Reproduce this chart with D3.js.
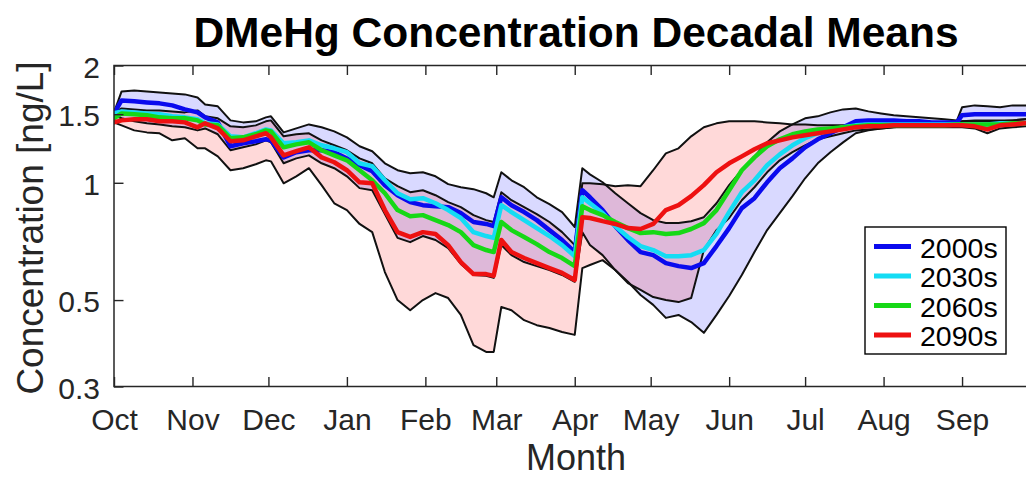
<!DOCTYPE html>
<html>
<head>
<meta charset="utf-8">
<script src="https://cdn.jsdelivr.net/npm/d3@7"></script>
<style>
  html, body { margin: 0; padding: 0; background: #fff; overflow: hidden; }
  svg { display: block; font-family: "Liberation Sans", Arial, Helvetica, sans-serif; }
</style>
</head>
<body>
<svg id="chart" width="1026" height="479"></svg>
<script>
// Day of the water year (0 = 1 October)
const days = [0,3,8,13,18,23,28,33,36,41,46,51,56,60,62,67,72,77,82,87,92,97,102,107,112,117,122,127,132,137,142,147,150,153,157,162,167,172,177,182,185,188,193,198,203,208,213,218,223,228,233,238,243,248,253,258,263,268,273,278,283,288,293,298,303,308,313,318,323,328,333,335,340,345,350,355,360,365];

const monthStarts = [0,31,61,92,123,151,182,212,243,273,304,335];
const monthLabels = ["Oct","Nov","Dec","Jan","Feb","Mar","Apr","May","Jun","Jul","Aug","Sep"];
const yTicks = [0.3, 0.5, 1, 1.5, 2];

const decades = ["2000s", "2030s", "2060s", "2090s"];
const decadeColors = ["#0a0aee", "#14dcf4", "#16d816", "#ee1111"];

// Decadal mean DMeHg concentration [ng/L]
const mean2000s = [1.507,1.627,1.618,1.608,1.599,1.580,1.543,1.516,1.472,1.429,
 1.241,1.263,1.278,1.293,1.285,1.162,1.198,1.212,1.212,1.198,
 1.155,1.109,1.071,0.986,0.929,0.892,0.876,0.871,0.866,0.836,
 0.793,0.784,0.774,0.918,0.876,0.841,0.802,0.756,0.713,0.664,
 0.957,0.918,0.851,0.774,0.713,0.664,0.652,0.622,0.611,0.604,
 0.622,0.688,0.765,0.861,0.913,1.003,1.090,1.155,1.233,1.293,
 1.340,1.388,1.438,1.446,1.446,1.446,1.438,1.438,1.429,1.429,
 1.429,1.490,1.499,1.499,1.499,1.499,1.499,1.499];

const mean2030s = [1.507,1.525,1.516,1.507,1.499,1.481,1.472,1.455,1.421,1.412,
 1.316,1.308,1.340,1.371,1.363,1.263,1.270,1.285,1.248,1.226,
 1.198,1.122,1.103,1.015,0.940,0.907,0.913,0.886,0.851,0.812,
 0.747,0.730,0.722,0.876,0.841,0.802,0.765,0.730,0.692,0.648,
 0.918,0.886,0.836,0.774,0.726,0.688,0.672,0.648,0.648,0.652,
 0.672,0.739,0.841,0.946,1.015,1.109,1.183,1.248,1.301,1.340,
 1.363,1.388,1.404,1.412,1.412,1.412,1.412,1.412,1.412,1.412,
 1.412,1.412,1.412,1.412,1.421,1.421,1.421,1.421];

const mean2060s = [1.464,1.507,1.499,1.490,1.472,1.464,1.464,1.446,1.412,1.404,
 1.301,1.308,1.332,1.363,1.355,1.233,1.255,1.270,1.212,1.176,
 1.142,1.077,1.015,0.940,0.851,0.821,0.826,0.802,0.779,0.747,
 0.692,0.672,0.664,0.793,0.756,0.726,0.696,0.664,0.641,0.611,
 0.871,0.851,0.826,0.793,0.765,0.743,0.747,0.739,0.743,0.761,
 0.788,0.851,0.957,1.077,1.162,1.241,1.293,1.332,1.355,1.371,
 1.379,1.388,1.396,1.404,1.404,1.404,1.404,1.404,1.404,1.404,
 1.412,1.412,1.412,1.412,1.412,1.421,1.421,1.421];

const mean2090s = [1.429,1.446,1.455,1.455,1.438,1.438,1.429,1.388,1.421,1.379,
 1.278,1.285,1.316,1.340,1.308,1.176,1.205,1.233,1.162,1.129,
 1.077,1.003,0.997,0.851,0.747,0.726,0.747,0.739,0.692,0.626,
 0.583,0.583,0.577,0.713,0.664,0.641,0.622,0.604,0.587,0.563,
 0.816,0.812,0.797,0.784,0.765,0.761,0.784,0.851,0.876,0.924,
 0.986,1.064,1.122,1.169,1.219,1.263,1.285,1.308,1.324,1.340,
 1.355,1.371,1.388,1.396,1.396,1.404,1.404,1.404,1.404,1.404,
 1.404,1.404,1.396,1.371,1.404,1.412,1.421,1.421];

// Range of the 2000s decade
const low2000s = [1.490,1.464,1.438,1.421,1.412,1.396,1.388,1.363,1.379,1.332,
 1.212,1.233,1.255,1.285,1.270,1.122,1.155,1.176,1.122,1.090,
 1.039,0.969,0.957,0.831,0.722,0.704,0.730,0.713,0.680,0.619,
 0.580,0.577,0.570,0.692,0.652,0.626,0.611,0.597,0.580,0.557,
 0.747,0.692,0.652,0.597,0.557,0.515,0.486,0.450,0.458,0.439,
 0.412,0.458,0.512,0.580,0.664,0.756,0.836,0.924,1.027,1.122,
 1.198,1.270,1.340,1.363,1.379,1.388,1.396,1.396,1.404,1.404,
 1.404,1.438,1.446,1.446,1.446,1.446,1.455,1.455];

const high2000s = [1.516,1.716,1.726,1.716,1.706,1.696,1.686,1.656,1.589,1.571,
 1.446,1.429,1.438,1.472,1.481,1.347,1.379,1.412,1.388,1.355,
 1.308,1.241,1.205,1.122,1.077,1.058,1.064,1.039,0.992,0.974,
 0.963,0.940,0.918,1.064,1.015,0.974,0.918,0.881,0.841,0.770,
 1.090,1.051,1.003,0.940,0.886,0.836,0.802,0.788,0.788,0.797,
 0.816,0.886,0.986,1.077,1.169,1.270,1.355,1.412,1.464,1.481,
 1.516,1.543,1.552,1.525,1.507,1.490,1.481,1.472,1.464,1.455,
 1.446,1.562,1.580,1.571,1.562,1.580,1.580,1.571];

// Range of the 2090s decade
const low2090s = [1.429,1.404,1.363,1.347,1.340,1.285,1.301,1.226,1.226,1.169,
 1.077,1.090,1.116,1.142,1.135,0.997,1.039,1.090,0.986,0.886,
 0.851,0.784,0.747,0.590,0.500,0.471,0.500,0.521,0.506,0.458,
 0.383,0.368,0.368,0.480,0.471,0.444,0.431,0.424,0.414,0.407,
 0.604,0.615,0.633,0.597,0.553,0.531,0.509,0.500,0.494,0.506,
 0.672,0.756,0.812,0.902,0.974,1.064,1.142,1.198,1.248,1.293,
 1.316,1.340,1.363,1.371,1.379,1.388,1.388,1.388,1.388,1.388,
 1.388,1.388,1.379,1.340,1.379,1.388,1.396,1.396];

const high2090s = [1.516,1.552,1.543,1.534,1.534,1.525,1.516,1.534,1.481,1.464,
 1.396,1.388,1.404,1.438,1.446,1.316,1.332,1.340,1.285,1.248,
 1.212,1.155,1.122,1.027,0.980,0.946,0.957,0.929,0.892,0.866,
 0.826,0.802,0.793,0.946,0.902,0.866,0.831,0.793,0.747,0.692,
 0.997,0.997,0.992,0.980,0.986,0.980,1.077,1.190,1.226,1.316,
 1.388,1.421,1.438,1.438,1.438,1.429,1.421,1.412,1.412,1.404,
 1.404,1.404,1.412,1.421,1.421,1.429,1.429,1.429,1.429,1.429,
 1.429,1.438,1.438,1.438,1.438,1.446,1.455,1.455];

const means = [mean2000s, mean2030s, mean2060s, mean2090s];
const bands = [
  { low: low2000s, high: high2000s, fill: "rgba(0,0,255,0.15)" },
  { low: low2090s, high: high2090s, fill: "rgba(255,0,0,0.15)" }
];

// ---- layout ----
const plotL = 114, plotR = 1038, plotT = 65.5, plotB = 386.5;
const axisColor = "#262626";

const x = d3.scaleLinear().domain([0, 365]).range([plotL, plotR]);
const y = d3.scaleLog().domain([0.3, 2]).range([plotB, plotT]);

const svg = d3.select("#chart");

svg.append("defs").append("clipPath").attr("id", "plotClip")
  .append("rect").attr("x", plotL).attr("y", plotT)
  .attr("width", plotR - plotL).attr("height", plotB - plotT);

const plot = svg.append("g").attr("clip-path", "url(#plotClip)");
const idx = d3.range(days.length);

// shaded decade ranges
bands.forEach(b => {
  plot.append("path")
    .datum(idx)
    .attr("fill", b.fill)
    .attr("stroke", "none")
    .attr("d", d3.area()
      .x(i => x(days[i]))
      .y0(i => y(b.low[i]))
      .y1(i => y(b.high[i])));
});

// range outlines
const seriesLine = arr => d3.line().x(i => x(days[i])).y(i => y(arr[i]));
bands.forEach(b => {
  [b.low, b.high].forEach(arr => {
    plot.append("path")
      .datum(idx)
      .attr("fill", "none")
      .attr("stroke", "#111")
      .attr("stroke-width", 2)
      .attr("stroke-linejoin", "round")
      .attr("d", seriesLine(arr));
  });
});

// decadal mean lines
means.forEach((arr, k) => {
  plot.append("path")
    .datum(idx)
    .attr("fill", "none")
    .attr("stroke", decadeColors[k])
    .attr("stroke-width", 4.5)
    .attr("stroke-linejoin", "round")
    .attr("stroke-linecap", "round")
    .attr("d", seriesLine(arr));
});

// ---- axes ----
const styleAxis = g => {
  g.select(".domain").remove();
  g.selectAll(".tick line").attr("stroke", axisColor).attr("stroke-width", 1.4);
  g.selectAll(".tick text").attr("fill", axisColor).attr("font-size", 30);
};

svg.append("g")
  .attr("transform", `translate(0,${plotB})`)
  .call(d3.axisBottom(x).tickValues(monthStarts)
    .tickFormat((d, i) => monthLabels[i])
    .tickSizeInner(-9.5).tickSizeOuter(0).tickPadding(22))
  .call(styleAxis);

svg.append("g")
  .attr("transform", `translate(0,${plotT})`)
  .call(d3.axisTop(x).tickValues(monthStarts).tickFormat("")
    .tickSizeInner(-9.5).tickSizeOuter(0))
  .call(styleAxis);

svg.append("g")
  .attr("transform", `translate(${plotL},0)`)
  .call(d3.axisLeft(y).tickValues(yTicks).tickFormat(d3.format("~g"))
    .tickSizeInner(-9.5).tickSizeOuter(0).tickPadding(14))
  .call(styleAxis)
  .call(g => g.selectAll(".tick text").attr("dy", "0.39em"));

// axes box
svg.append("rect")
  .attr("x", plotL).attr("y", plotT)
  .attr("width", plotR - plotL).attr("height", plotB - plotT)
  .attr("fill", "none").attr("stroke", axisColor).attr("stroke-width", 1.5);

// ---- titles ----
svg.append("text")
  .attr("x", (plotL + plotR) / 2).attr("y", 47)
  .attr("text-anchor", "middle")
  .attr("font-size", 42.5).attr("font-weight", "bold").attr("fill", "#000")
  .text("DMeHg Concentration Decadal Means");

svg.append("text")
  .attr("x", (plotL + plotR) / 2).attr("y", 470)
  .attr("text-anchor", "middle")
  .attr("font-size", 36).attr("fill", axisColor)
  .text("Month");

svg.append("text")
  .attr("transform", `translate(43,${(plotT + plotB) / 2 + 2}) rotate(-90)`)
  .attr("text-anchor", "middle")
  .attr("font-size", 37).attr("fill", axisColor)
  .text("Concentration [ng/L]");

// ---- legend ----
const legend = svg.append("g");
legend.append("rect")
  .attr("x", 865).attr("y", 227).attr("width", 141).attr("height", 127)
  .attr("fill", "#fff").attr("stroke", "#000").attr("stroke-width", 1.4);

decades.forEach((name, k) => {
  const cy = 246.5 + k * 29.5;
  legend.append("line")
    .attr("x1", 874).attr("x2", 911).attr("y1", cy).attr("y2", cy)
    .attr("stroke", decadeColors[k]).attr("stroke-width", 5);
  legend.append("text")
    .attr("x", 920).attr("y", cy + 11)
    .attr("font-size", 28.5).attr("fill", "#000")
    .text(name);
});
</script>
</body>
</html>
